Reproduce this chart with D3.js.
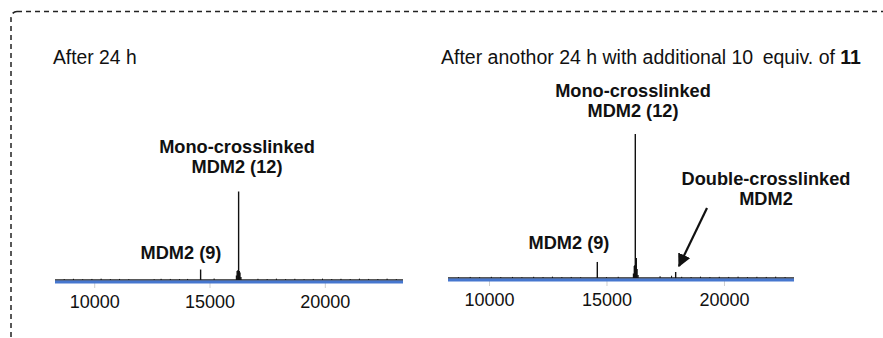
<!DOCTYPE html>
<html lang="en">
<head>
    <meta charset="UTF-8">
    <title>MDM2 crosslinking spectra</title>
    <script src="https://d3js.org/d3.v7.min.js"></script>
    <style>
        body { margin: 0; background: #fff; }
        text { font-family: "Liberation Sans", Arial, sans-serif; fill: #111; }
    </style>
</head>
<body>
    <script>
        // tick labels shared by both panels
        var tickValues = [10000, 15000, 20000];

        // left spectrum: after 24 h  [mass, relative intensity]
        var leftPeaks = [
            [8700, 0.6], [9100, 0.8], [9500, 0.5], [9900, 0.7], [10300, 0.9], [10700, 0.6],
            [11100, 0.7], [11500, 0.5], [12600, 0.5], [12900, 0.8], [13300, 0.7], [13700, 0.6],
            [14050, 0.7], [14614, 7], [15200, 1],
            [16170, 3], [16200, 6], [16230, 6.5], [16262, 59], [16290, 6], [16320, 5], [16360, 2],
            [17100, 0.8], [17500, 0.6], [17900, 0.9], [18300, 0.6], [18700, 0.8], [19100, 0.5],
            [19500, 0.7], [19900, 0.9], [20300, 0.6], [20700, 0.8], [21100, 0.6], [21500, 0.9],
            [21900, 0.7], [22300, 0.6], [22700, 0.9], [23100, 0.6]
        ];

        // right spectrum: after another 24 h + 10 equiv. of 11
        var rightPeaks = [
            [8700, 0.6], [9200, 0.7], [9600, 0.5], [10100, 0.8], [10500, 0.6], [11000, 0.7],
            [11400, 0.5], [11900, 0.8], [12300, 0.6], [12700, 0.9], [13100, 0.6], [13500, 0.7],
            [13900, 0.5], [14609, 10.7], [15000, 0.6], [15500, 0.8],
            [16150, 3], [16185, 8], [16205, 8.5], [16226, 96], [16250, 8], [16268, 13.3],
            [16300, 6], [16340, 2], [17280, 1.2], [17770, 1.5], [17944, 4],
            [18200, 0.8], [18600, 0.6], [19000, 0.9], [19400, 0.6], [19800, 0.8], [20200, 0.7],
            [20600, 0.9], [21000, 0.6], [21400, 0.8], [21800, 0.7], [22200, 0.9], [22600, 0.6]
        ];

        var w = 883;
        var h = 338;
        var blue = "#4677cf";

        var svg = d3.select("body")
            .append("svg")
            .attr("width", w)
            .attr("height", h);

        // dashed frame, runs off the right and bottom edges
        svg.append("rect")
            .attr("x", 11)
            .attr("y", 11.5)
            .attr("width", 940)
            .attr("height", 400)
            .attr("rx", 6)
            .attr("fill", "none")
            .attr("stroke", "#222")
            .attr("stroke-width", 1.5)
            .attr("stroke-dasharray", "5,4");

        function drawPanel(peaks, x0, x1, domain, axisY) {
            var g = svg.append("g");

            var xScale = d3.scaleLinear()
                .domain(domain)
                .range([x0, x1]);

            var yScale = d3.scaleLinear()
                .domain([0, 100])
                .range([axisY - 2, axisY - 152]);

            // axis: gray ticks, blue domain line
            var axis = g.append("g")
                .attr("transform", "translate(0," + axisY + ")")
                .call(d3.axisBottom(xScale)
                    .tickValues(tickValues)
                    .tickFormat(d3.format("d"))
                    .tickSize(6)
                    .tickPadding(7));
            axis.select(".domain").remove();
            axis.selectAll(".tick line")
                .attr("stroke", "#cfcfcf");
            axis.selectAll(".tick text")
                .attr("font-size", "18px")
                .attr("font-family", "Liberation Sans, Arial, sans-serif")
                .attr("fill", "#111");

            // noisy baseline
            g.append("line")
                .attr("x1", x0)
                .attr("x2", x1)
                .attr("y1", axisY - 2)
                .attr("y2", axisY - 2)
                .attr("stroke", "#222")
                .attr("stroke-width", 1.6);

            g.append("line")
                .attr("x1", x0)
                .attr("x2", x1)
                .attr("y1", axisY)
                .attr("y2", axisY)
                .attr("stroke", blue)
                .attr("stroke-width", 3);

            // stick peaks
            g.selectAll("line.peak")
                .data(peaks)
                .enter()
                .append("line")
                .attr("class", "peak")
                .attr("x1", function(d) { return xScale(d[0]); })
                .attr("x2", function(d) { return xScale(d[0]); })
                .attr("y1", yScale(0))
                .attr("y2", function(d) { return yScale(d[1]); })
                .attr("stroke", "#111")
                .attr("stroke-width", function(d) { return d[1] < 2 ? 1 : 1.4; });

            return { x: xScale, y: yScale };
        }

        drawPanel(leftPeaks, 55, 403, [8300, 23390], 282);
        drawPanel(rightPeaks, 448, 794, [8255, 22980], 280);

        function label(x, y, lines, bold, anchor, size) {
            var t = svg.append("text")
                .attr("x", x)
                .attr("y", y)
                .attr("text-anchor", anchor)
                .attr("font-size", size)
                .attr("font-weight", bold ? "bold" : "normal");
            lines.forEach(function(s, i) {
                t.append("tspan")
                    .attr("x", x)
                    .attr("dy", i === 0 ? 0 : 20)
                    .text(s);
            });
        }

        // panel titles
        label(53, 64, ["After 24 h"], false, "start", "19.3px");
        var rt = svg.append("text")
            .attr("x", 441)
            .attr("y", 64)
            .attr("font-size", "19.5px");
        rt.append("tspan").text("After anothor 24 h with additional 10");
        rt.append("tspan").attr("dx", 4).text(" equiv. of ");
        rt.append("tspan").attr("font-weight", "bold").text("11");

        // peak annotations
        label(237, 153, ["Mono-crosslinked", "MDM2 (12)"], true, "middle", "18.2px");
        label(181, 259, ["MDM2 (9)"], true, "middle", "18.2px");
        label(633, 97, ["Mono-crosslinked", "MDM2 (12)"], true, "middle", "18.2px");
        label(569, 249, ["MDM2 (9)"], true, "middle", "18.2px");
        label(766, 185, ["Double-crosslinked", "MDM2"], true, "middle", "18.2px");

        // arrow to the double-crosslinked peak
        svg.append("defs").append("marker")
            .attr("id", "head")
            .attr("viewBox", "0 0 10 10")
            .attr("refX", 9)
            .attr("refY", 5)
            .attr("markerWidth", 6)
            .attr("markerHeight", 6)
            .attr("orient", "auto")
            .append("path")
            .attr("d", "M0,0 L10,5 L0,10 z")
            .attr("fill", "#111");

        svg.append("line")
            .attr("x1", 707)
            .attr("y1", 208)
            .attr("x2", 679)
            .attr("y2", 266)
            .attr("stroke", "#111")
            .attr("stroke-width", 2.2)
            .attr("marker-end", "url(#head)");
    </script>
</body>
</html>
